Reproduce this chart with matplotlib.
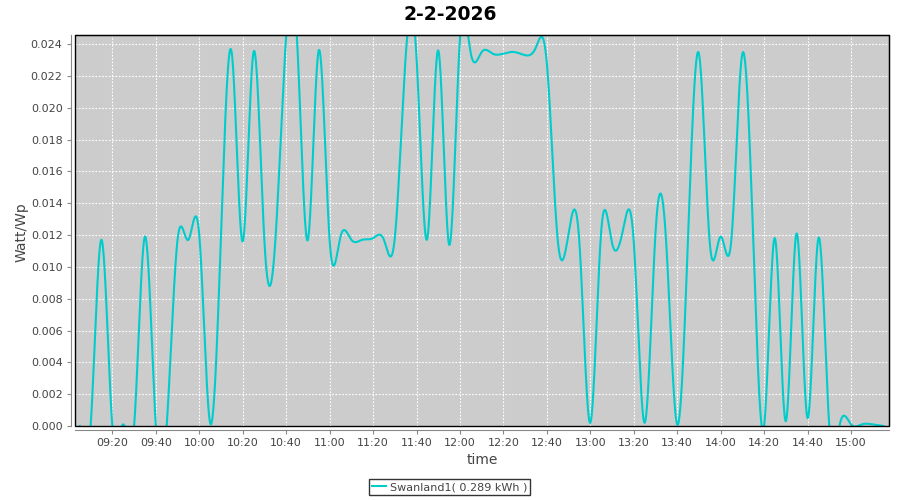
import numpy as np
import matplotlib
matplotlib.use("Agg")
import matplotlib.pyplot as plt
from matplotlib.patches import Rectangle
from matplotlib.ticker import FuncFormatter, MultipleLocator

# 5-minute samples, first one at 09:05
start_time = "09:05"
step_min = 5
watt_wp = [
    0.0000, 0.0000, 0.0117, 0.0000, 0.0001, 0.0000, 0.0119, 0.0000, 0.0000, 0.0117,  # 09:05-09:50
    0.0117, 0.0120, 0.0002, 0.0120, 0.0234, 0.0116, 0.0235, 0.0116, 0.0116, 0.0245,  # 09:55-10:40
    0.0243, 0.0117, 0.0236, 0.0117, 0.0119, 0.0117, 0.0117, 0.0118, 0.0117, 0.0118,  # 10:45-11:30
    0.0232, 0.0232, 0.0118, 0.0236, 0.0114, 0.0243, 0.0234, 0.0235, 0.0234, 0.0234,  # 11:35-12:20
    0.0235, 0.0233, 0.0238, 0.0228, 0.0117, 0.0121, 0.0115, 0.0002, 0.0122, 0.0115,  # 12:25-13:10
    0.0123, 0.0116, 0.0002, 0.0121, 0.0114, 0.0001, 0.0119, 0.0234, 0.0115, 0.0119,  # 13:15-14:00
    0.0118, 0.0234, 0.0117, 0.0000, 0.0118, 0.0003, 0.0121, 0.0005, 0.0118, 0.0000,  # 14:05-14:50
    0.0002, 0.0001, 0.0001, 0.0001, 0.0000,                                          # 14:55-15:15
]
series_name = "Swanland1( 0.289 kWh )"
title = "2-2-2026"

h0, m0 = map(int, start_time.split(":"))
t = h0 * 60 + m0 + step_min * np.arange(len(watt_wp))
y = np.array(watt_wp)


def natural_spline(x, y, xs):
    # plain natural cubic spline, like the spline renderer of the original chart
    n = len(x)
    h = np.diff(x).astype(float)
    A = np.zeros((n, n))
    r = np.zeros(n)
    A[0, 0] = A[-1, -1] = 1
    for i in range(1, n - 1):
        A[i, i - 1] = h[i - 1]
        A[i, i] = 2 * (h[i - 1] + h[i])
        A[i, i + 1] = h[i]
        r[i] = 3 * ((y[i + 1] - y[i]) / h[i] - (y[i] - y[i - 1]) / h[i - 1])
    c = np.linalg.solve(A, r)
    b = (y[1:] - y[:-1]) / h - h * (2 * c[:-1] + c[1:]) / 3
    d = (c[1:] - c[:-1]) / (3 * h)
    idx = np.clip(np.searchsorted(x, xs) - 1, 0, n - 2)
    dx = xs - x[idx]
    return y[idx] + b[idx] * dx + c[idx] * dx ** 2 + d[idx] * dx ** 3


ts = np.linspace(t[0], t[-1], 3000)
ys = natural_spline(t, y, ts)

fig = plt.figure(figsize=(9, 5), dpi=100)
ax = fig.add_axes([75 / 900, 1 - 426 / 500, 814 / 900, 391 / 500])
ax.set_facecolor("#CCCCCC")

ax.plot(ts, ys, color="#00CCCC", lw=1.5, label=series_name)

ax.set_xlim(542.8, 917.5)
ax.set_ylim(0, 0.02457)
ax.xaxis.set_major_locator(MultipleLocator(20))
ax.xaxis.set_major_formatter(FuncFormatter(lambda v, p: f"{int(v) // 60:02d}:{int(v) % 60:02d}"))
ax.yaxis.set_major_locator(MultipleLocator(0.002))
ax.yaxis.set_major_formatter(FuncFormatter(lambda v, p: f"{v:.3f}"))

ax.grid(True, color="white", linestyle=(0, (1.5, 1.5)), linewidth=0.8)
ax.set_axisbelow(True)

for side in ["left", "bottom"]:
    ax.spines[side].set_position(("outward", 3))
    ax.spines[side].set_color("#888888")
for side in ["top", "right"]:
    ax.spines[side].set_color("black")
ax.add_patch(Rectangle((0, 0), 1, 1, transform=ax.transAxes, fill=False,
                       edgecolor="black", lw=1, clip_on=False, zorder=5))

ax.tick_params(direction="out", length=3, width=0.8, color="#888888",
               labelcolor="#444444", labelsize=8, pad=3)

fig.text(22 / 900, 1 - 232 / 500, "Watt/Wp", rotation=90, ha="center", va="center",
         fontsize=10, color="#444444")
fig.text(482 / 900, 1 - 460 / 500, "time", ha="center", va="center",
         fontsize=10, color="#444444")
fig.text(450 / 900, 1 - 14 / 500, title, ha="center", va="center",
         fontsize=13.5, fontweight="bold", color="black")

leg = fig.legend(loc="center", bbox_to_anchor=(449.5 / 900, 1 - 487 / 500),
                 fontsize=8, frameon=True, fancybox=False, handlelength=1.3,
                 handletextpad=0.3, borderpad=0.3, borderaxespad=0)
leg.get_frame().set_edgecolor("black")
leg.get_frame().set_linewidth(1)
for txt in leg.get_texts():
    txt.set_color("#444444")

fig.savefig("out.png", dpi=100)
